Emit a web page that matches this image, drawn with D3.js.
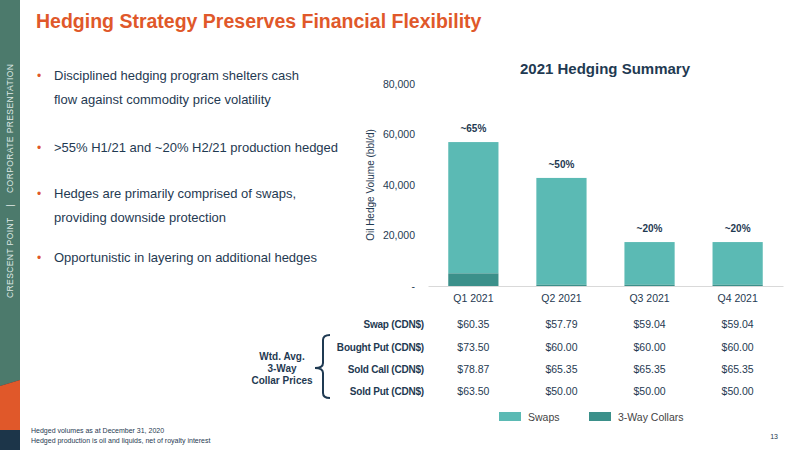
<!DOCTYPE html>
<head>
<script src="https://d3js.org/d3.v7.min.js"></script>
<style>body{margin:0;background:#fff}text{font-family:"Liberation Sans",Arial,sans-serif}</style>
</head>
<body>
<svg id="c" width="800" height="450"></svg>
<script>
var quarters = ["Q1 2021", "Q2 2021", "Q3 2021", "Q4 2021"];
var swaps = [52000, 42300, 16900, 16900];
var collars = [5000, 500, 500, 500];
var pctLabels = ["~65%", "~50%", "~20%", "~20%"];
var yTicks = [0, 20000, 40000, 60000, 80000];
var rowLabels = ["Swap (CDN$)", "Bought Put (CDN$)", "Sold Call (CDN$)", "Sold Put (CDN$)"];
var prices = [
    ["$60.35", "$57.79", "$59.04", "$59.04"],
    ["$73.50", "$60.00", "$60.00", "$60.00"],
    ["$78.87", "$65.35", "$65.35", "$65.35"],
    ["$63.50", "$50.00", "$50.00", "$50.00"]
];
var bullets = [
    ["Disciplined hedging program shelters cash", "flow against commodity price volatility"],
    [">55% H1/21 and ~20% H2/21 production hedged"],
    ["Hedges are primarily comprised of swaps,", "providing downside protection"],
    ["Opportunistic in layering on additional hedges"]
];

var svg = d3.select("#c");
var navy = "#1f3a52", teal = "#5bbab4", dteal = "#3b908a", orange = "#e0582a";

// sidebar
svg.append("rect").attr("x", 0).attr("y", 0).attr("width", 20).attr("height", 450).attr("fill", "#1c3549");
svg.append("polygon").attr("points", "0,0 20,0 20,380 0,386").attr("fill", "#4c7a6c");
svg.append("polygon").attr("points", "0,386 20,380 20,430 0,430").attr("fill", orange);
svg.append("text").attr("transform", "translate(13,298) rotate(-90)")
    .attr("font-size", 8.5).attr("letter-spacing", 0.4).attr("fill", "#dfe9e5")
    .attr("xml:space", "preserve")
    .text("CRESCENT POINT    |    CORPORATE PRESENTATION");

svg.append("text").attr("x", 36).attr("y", 28).attr("font-size", 19.5).attr("font-weight", "bold")
    .attr("fill", orange).text("Hedging Strategy Preserves Financial Flexibility");

var by = [80, 152, 198, 262];
bullets.forEach(function (b, i) {
    svg.append("text").attr("x", 37).attr("y", by[i]).attr("font-size", 12).attr("fill", orange).text("•");
    b.forEach(function (line, j) {
        svg.append("text").attr("x", 54).attr("y", by[i] + j * 24).attr("font-size", 13)
            .attr("fill", navy).text(line);
    });
});

// chart
var x = d3.scaleBand().domain(quarters).range([428, 783]).paddingInner(0.43).paddingOuter(0.23);
var y = d3.scaleLinear().domain([0, 80000]).range([286, 84]);

svg.append("text").attr("x", 605).attr("y", 74).attr("text-anchor", "middle").attr("font-size", 15)
    .attr("font-weight", "bold").attr("fill", navy).text("2021 Hedging Summary");

var ya = svg.append("g").attr("transform", "translate(418,0)")
    .call(d3.axisLeft(y).tickValues(yTicks).tickSize(0)
        .tickFormat(function (d) { return d === 0 ? "-" : d3.format(",")(d); }));
ya.select(".domain").remove();
ya.selectAll("text").attr("font-size", 10.5).attr("fill", navy).attr("font-family", "Liberation Sans, Arial");

svg.append("text").attr("transform", "translate(374,185) rotate(-90)").attr("text-anchor", "middle")
    .attr("font-size", 10).attr("fill", navy).text("Oil Hedge Volume (bbl/d)");

svg.selectAll(".sw").data(quarters).enter().append("rect")
    .attr("x", function (d) { return x(d); }).attr("width", x.bandwidth())
    .attr("y", function (d, i) { return y(swaps[i] + collars[i]); })
    .attr("height", function (d, i) { return y(collars[i]) - y(swaps[i] + collars[i]); })
    .attr("fill", teal);
svg.selectAll(".co").data(quarters).enter().append("rect")
    .attr("x", function (d) { return x(d); }).attr("width", x.bandwidth())
    .attr("y", function (d, i) { return y(collars[i]); })
    .attr("height", function (d, i) { return y(0) - y(collars[i]); })
    .attr("fill", dteal);
svg.selectAll(".pl").data(quarters).enter().append("text")
    .attr("x", function (d) { return x(d) + x.bandwidth() / 2; })
    .attr("y", function (d, i) { return y(swaps[i] + collars[i]) - 10; })
    .attr("text-anchor", "middle").attr("font-size", 10).attr("font-weight", "bold").attr("fill", navy)
    .text(function (d, i) { return pctLabels[i]; });

var xa = svg.append("g").attr("transform", "translate(0,286)").call(d3.axisBottom(x).tickSize(0).tickPadding(9));
xa.select(".domain").attr("stroke", "#d9d9d9");
xa.selectAll("text").attr("font-size", 10.5).attr("fill", navy).attr("font-family", "Liberation Sans, Arial");

// price table
var ry = [328, 351, 373, 395];
rowLabels.forEach(function (r, i) {
    svg.append("text").attr("x", 424).attr("y", ry[i]).attr("text-anchor", "end").attr("font-size", 10)
        .attr("letter-spacing", -0.2).attr("font-weight", "bold").attr("fill", navy).text(r);
    prices[i].forEach(function (p, j) {
        svg.append("text").attr("x", x(quarters[j]) + x.bandwidth() / 2).attr("y", ry[i])
            .attr("text-anchor", "middle").attr("font-size", 10.5).attr("fill", navy).text(p);
    });
});
["Wtd. Avg.", "3-Way", "Collar Prices"].forEach(function (t, i) {
    svg.append("text").attr("x", 282).attr("y", 360 + i * 12).attr("text-anchor", "middle")
        .attr("font-size", 10).attr("font-weight", "bold").attr("fill", navy).text(t);
});
svg.append("path")
    .attr("d", "M330,335 Q323,335 323,340 L323,363 Q323,368 315,368 Q323,368 323,373 L323,393 Q323,398 330,398")
    .attr("fill", "none").attr("stroke", navy).attr("stroke-width", 2);

// legend
[["Swaps", teal, 499], ["3-Way Collars", dteal, 589]].forEach(function (l) {
    svg.append("rect").attr("x", l[2]).attr("y", 412).attr("width", 22).attr("height", 9).attr("fill", l[1]);
    svg.append("text").attr("x", l[2] + 29).attr("y", 421).attr("font-size", 10.5).attr("fill", "#444").text(l[0]);
});

svg.append("text").attr("x", 31).attr("y", 433).attr("font-size", 7).attr("fill", navy).text("Hedged volumes as at December 31, 2020");
svg.append("text").attr("x", 31).attr("y", 443).attr("font-size", 7).attr("fill", navy).text("Hedged production is oil and liquids, net of royalty interest");
svg.append("text").attr("x", 778).attr("y", 439).attr("text-anchor", "end").attr("font-size", 7).attr("fill", navy).text("13");
</script>
</body>
